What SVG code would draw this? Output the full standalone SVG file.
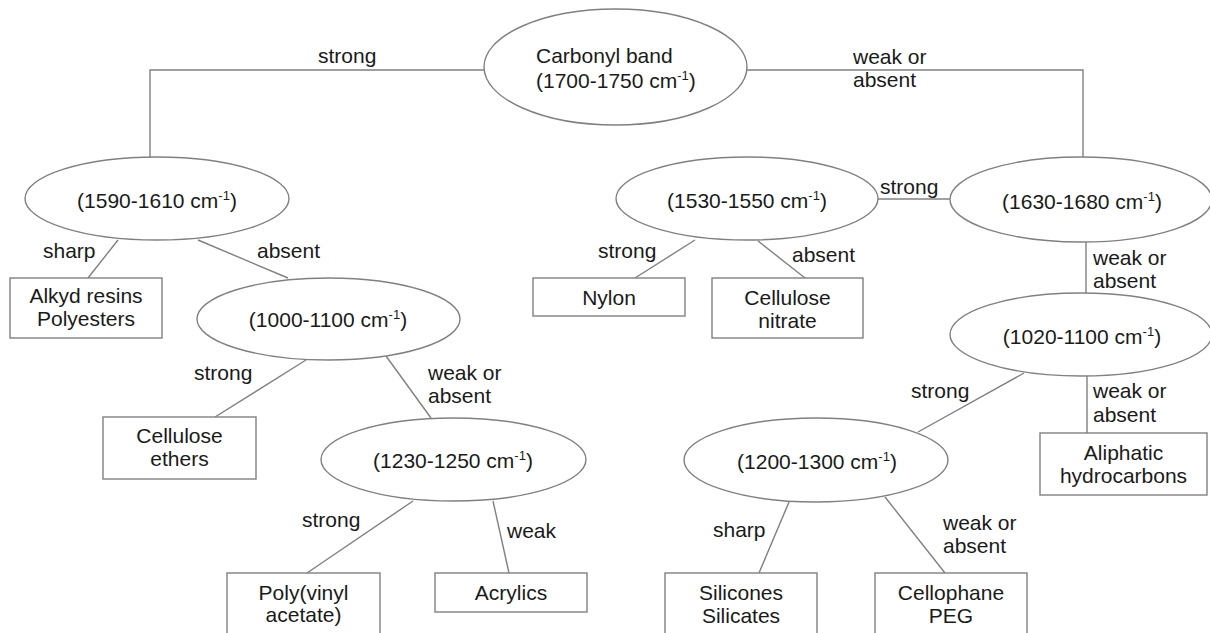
<svg xmlns="http://www.w3.org/2000/svg" width="1210" height="633" viewBox="0 0 1210 633">
<style>
text{font-family:"Liberation Sans",Arial,sans-serif;font-size:21px;fill:#1a1a1a}
.n ellipse,.n rect{fill:#fff;stroke:#808080;stroke-width:1.4}
.c{fill:#fff;text-anchor:middle}
.m{text-anchor:middle}
#connectors line,#connectors polyline{stroke:#808080;stroke-width:1.4;fill:none}
.s{font-size:13px}
</style>
<rect width="1210" height="633" fill="#fff"/>
<g id="connectors">
<polyline points="484,70 150,70 150,157"/>
<polyline points="747,70 1083,70 1083,157"/>
<line x1="118" y1="240" x2="88" y2="278"/>
<line x1="198" y1="240" x2="288" y2="278"/>
<line x1="306" y1="360" x2="215" y2="417"/>
<line x1="386" y1="356" x2="431" y2="418"/>
<line x1="413" y1="501" x2="307" y2="573"/>
<line x1="493" y1="501" x2="509" y2="573"/>
<line x1="878" y1="199" x2="950" y2="199"/>
<line x1="695" y1="240" x2="635" y2="278"/>
<line x1="758" y1="241" x2="805" y2="278"/>
<line x1="1086" y1="242" x2="1086" y2="293"/>
<line x1="1024" y1="373" x2="918" y2="432"/>
<line x1="1087" y1="376" x2="1087" y2="433"/>
<line x1="789" y1="502" x2="759" y2="573"/>
<line x1="885" y1="497" x2="945" y2="573"/>
<text x="318" y="63">strong</text>
<text x="853" y="64">weak or</text><text x="853" y="87">absent</text>
<text x="43" y="258">sharp</text>
<text x="257" y="258">absent</text>
<text x="194" y="380">strong</text>
<text x="428" y="380">weak or</text><text x="428" y="403">absent</text>
<text x="302" y="527">strong</text>
<text x="507" y="538">weak</text>
<text x="598" y="258">strong</text>
<text x="792" y="262">absent</text>
<text x="880" y="194">strong</text>
<text x="1093" y="265">weak or</text><text x="1093" y="288">absent</text>
<text x="911" y="398">strong</text>
<text x="1093" y="398">weak or</text><text x="1093" y="422">absent</text>
<text x="713" y="537">sharp</text>
<text x="943" y="530">weak or</text><text x="943" y="553">absent</text>
</g>
<g id="carbonyl" class="n"><ellipse cx="615.5" cy="67" rx="131.5" ry="58"/>
<text x="536" y="63">Carbonyl band</text><text x="536" y="88">(1700-1750 cm<tspan class="s" dy="-8">-1</tspan><tspan dy="8">)</tspan></text></g>
<g id="b1590" class="n"><ellipse cx="157" cy="198.5" rx="132" ry="41.5"/>
<text class="m" x="157" y="208">(1590-1610 cm<tspan class="s" dy="-8">-1</tspan><tspan dy="8">)</tspan></text></g>
<g id="b1000" class="n"><ellipse cx="328.5" cy="319" rx="131.5" ry="41"/>
<text class="m" x="328" y="327">(1000-1100 cm<tspan class="s" dy="-8">-1</tspan><tspan dy="8">)</tspan></text></g>
<g id="b1230" class="n"><ellipse cx="453.5" cy="459.5" rx="132.5" ry="41.5"/>
<text class="m" x="453" y="468">(1230-1250 cm<tspan class="s" dy="-8">-1</tspan><tspan dy="8">)</tspan></text></g>
<g id="b1530" class="n"><ellipse cx="747" cy="198.5" rx="131" ry="41.5"/>
<text class="m" x="747" y="208">(1530-1550 cm<tspan class="s" dy="-8">-1</tspan><tspan dy="8">)</tspan></text></g>
<g id="b1630" class="n"><ellipse cx="1081" cy="199.5" rx="131" ry="42.5"/>
<text class="m" x="1082" y="209">(1630-1680 cm<tspan class="s" dy="-8">-1</tspan><tspan dy="8">)</tspan></text></g>
<g id="b1020" class="n"><ellipse cx="1081" cy="334.5" rx="131" ry="41.5"/>
<text class="m" x="1082" y="344">(1020-1100 cm<tspan class="s" dy="-8">-1</tspan><tspan dy="8">)</tspan></text></g>
<g id="b1200" class="n"><ellipse cx="816" cy="460" rx="132" ry="42"/>
<text class="m" x="817" y="469">(1200-1300 cm<tspan class="s" dy="-8">-1</tspan><tspan dy="8">)</tspan></text></g>
<g id="alkyd" class="n"><rect x="10" y="278" width="152" height="60"/>
<text class="m" x="86" y="303">Alkyd resins</text><text class="m" x="86" y="326">Polyesters</text></g>
<g id="ethers" class="n"><rect x="103" y="417" width="153" height="62"/>
<text class="m" x="179.5" y="443">Cellulose</text><text class="m" x="179.5" y="466">ethers</text></g>
<g id="pva" class="n"><rect x="227" y="573" width="153" height="70"/>
<text class="m" x="303.5" y="600">Poly(vinyl</text><text class="m" x="303.5" y="622">acetate)</text></g>
<g id="acrylics" class="n"><rect x="435" y="573" width="152" height="39"/>
<text class="m" x="511" y="600">Acrylics</text></g>
<g id="nylon" class="n"><rect x="533" y="278" width="152" height="38"/>
<text class="m" x="609" y="305">Nylon</text></g>
<g id="nitrate" class="n"><rect x="712" y="278" width="151" height="60"/>
<text class="m" x="787.5" y="305">Cellulose</text><text class="m" x="787.5" y="328">nitrate</text></g>
<g id="aliphatic" class="n"><rect x="1040" y="433" width="167" height="62"/>
<text class="m" x="1123.5" y="460">Aliphatic</text><text class="m" x="1123.5" y="483">hydrocarbons</text></g>
<g id="silicones" class="n"><rect x="665" y="573" width="152" height="70"/>
<text class="m" x="741" y="600">Silicones</text><text class="m" x="741" y="623">Silicates</text></g>
<g id="cellophane" class="n"><rect x="875" y="573" width="152" height="70"/>
<text class="m" x="951" y="600">Cellophane</text><text class="m" x="951" y="623">PEG</text></g>
</svg>
